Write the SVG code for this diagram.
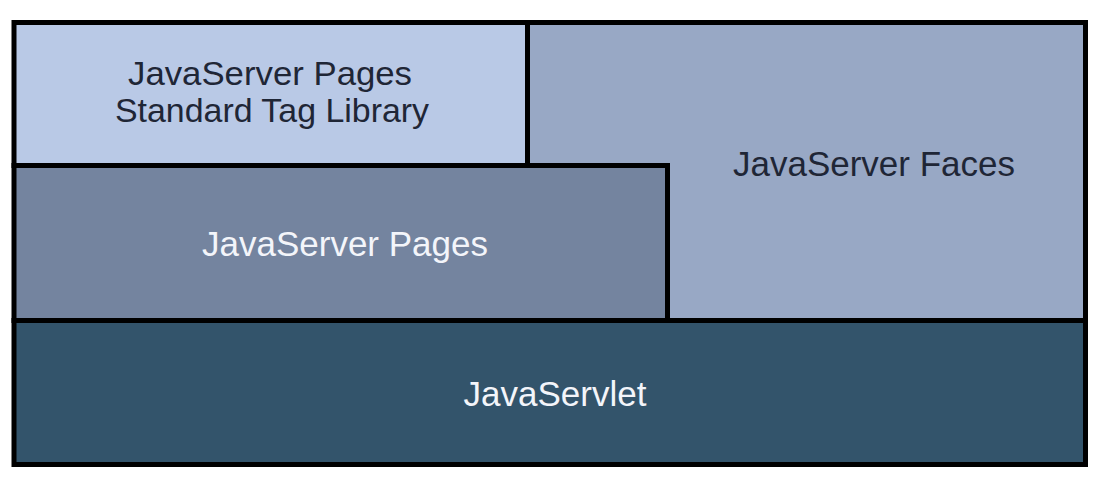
<svg xmlns="http://www.w3.org/2000/svg" width="1103" height="482" viewBox="0 0 1103 482">
<style>
.box{stroke:#000;stroke-width:5;stroke-linejoin:miter}
.t{font-family:"Liberation Sans",Arial,sans-serif;font-size:35px;text-anchor:middle}
.s{font-size:33px}
.dark{fill:#1f2636}
.light{fill:#f3f5fa}
</style>
<rect width="1103" height="482" fill="#ffffff"/>
<g id="jsf">
<rect class="box" x="527.5" y="22.5" width="558" height="298" fill="#98a8c5"/>
<text class="t dark" x="874" y="176">JavaServer Faces</text>
</g>
<g id="jstl">
<rect class="box" x="14" y="22.5" width="513.5" height="143" fill="#b9c9e6"/>
<text class="t s dark" x="270" y="85" textLength="284" lengthAdjust="spacingAndGlyphs">JavaServer Pages</text>
<text class="t s dark" x="272" y="122" textLength="314" lengthAdjust="spacingAndGlyphs">Standard Tag Library</text>
</g>
<g id="jsp">
<rect class="box" x="14" y="165.5" width="653.5" height="155" fill="#74849f"/>
<text class="t light" x="345" y="256">JavaServer Pages</text>
</g>
<g id="servlet">
<rect class="box" x="14" y="320.5" width="1071.5" height="144" fill="#33546b"/>
<text class="t light" x="555" y="406">JavaServlet</text>
</g>
<g id="connectors"/>
</svg>
